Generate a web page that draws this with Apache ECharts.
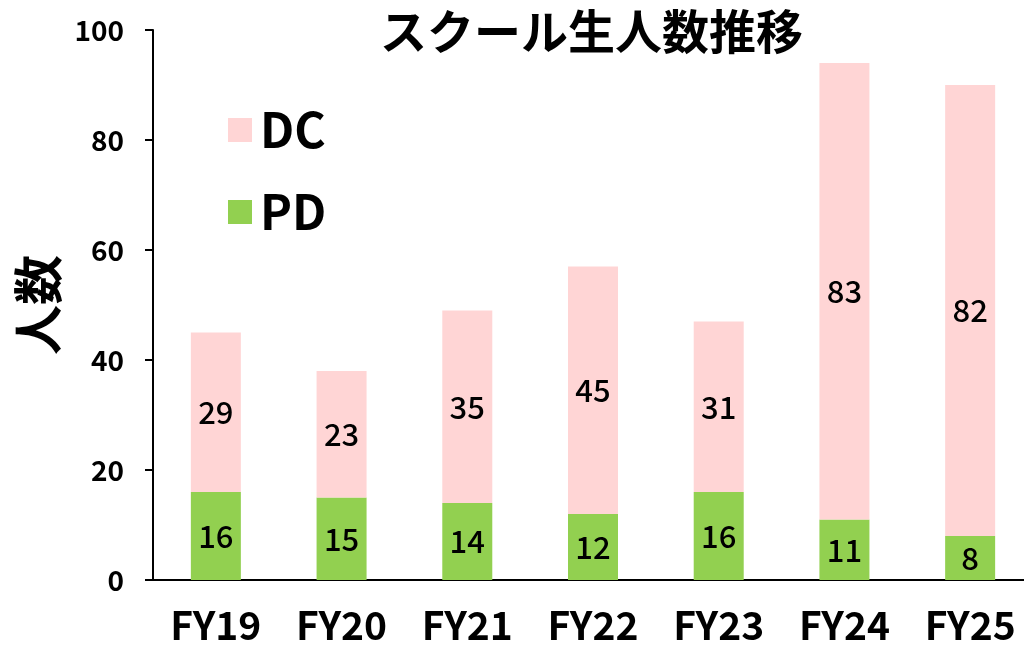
<!DOCTYPE html>
<html><head><meta charset="utf-8">
<script src="https://cdn.jsdelivr.net/npm/echarts@6/dist/echarts.min.js"></script>
<style>html,body{margin:0;padding:0;background:#fff}#c{width:1024px;height:646px}</style>
</head><body><div id="c"></div>
<script>
const categories = ['FY19','FY20','FY21','FY22','FY23','FY24','FY25'];
const pdValues = [16, 15, 14, 12, 16, 11, 8];
const dcValues = [29, 23, 35, 45, 31, 83, 82];
const yTicks = [0, 20, 40, 60, 80, 100];
const titleText = 'スクール生人数推移';
const yName = '人数';

const FONT = '"Noto Sans CJK JP", "Noto Sans", sans-serif';
const chart = echarts.init(document.getElementById('c'), null, {renderer:'canvas'});
chart.setOption({
  animation: false,
  backgroundColor: '#fff',
  title: { text: titleText, left: 380, top: 8, padding: 0,
    textStyle: { fontFamily: FONT, fontSize: 47, fontWeight: 'bold', color: '#000' } },
  legend: {
    data: ['DC','PD'], orient: 'vertical', left: 228, top: 106, padding: 0,
    itemWidth: 24, itemHeight: 24, itemGap: 34, icon: 'rect',
    textStyle: { fontFamily: FONT, fontSize: 48, fontWeight: 'bold', color: '#000', padding: [0,0,0,3] }
  },
  grid: { left: 153, top: 30, width: 880, bottom: 66, containLabel: false, outerBoundsMode: 'none' },
  xAxis: {
    type: 'category', data: categories,
    axisLine: { lineStyle: { color: '#000', width: 2 } },
    axisTick: { show: false },
    axisLabel: { fontFamily: FONT, fontSize: 39, fontWeight: 'bold', color: '#000', margin: 26 }
  },
  yAxis: {
    type: 'value', min: yTicks[0], max: yTicks[yTicks.length-1], interval: 20,
    name: yName, nameLocation: 'middle', nameRotate: 90, nameGap: 90,
    nameTextStyle: { fontFamily: FONT, fontSize: 50, fontWeight: 'bold', color: '#000' },
    axisLine: { show: true, lineStyle: { color: '#000', width: 2 } },
    axisTick: { show: true, length: 8, lineStyle: { color: '#000', width: 2 } },
    splitLine: { show: false },
    axisLabel: { fontFamily: FONT, fontSize: 28, fontWeight: 'bold', color: '#000', margin: 29 }
  },
  series: [
    { name: 'PD', type: 'bar', stack: 's', data: pdValues, barWidth: 50,
      itemStyle: { color: '#92D050' },
      label: { show: true, position: 'inside', fontFamily: FONT, fontSize: 31, fontWeight: 500, color: '#000' } },
    { name: 'DC', type: 'bar', stack: 's', data: dcValues, barWidth: 50,
      itemStyle: { color: '#FFD5D5' },
      label: { show: true, position: 'inside', fontFamily: FONT, fontSize: 31, fontWeight: 500, color: '#000' } }
  ]
});
</script></body></html>
